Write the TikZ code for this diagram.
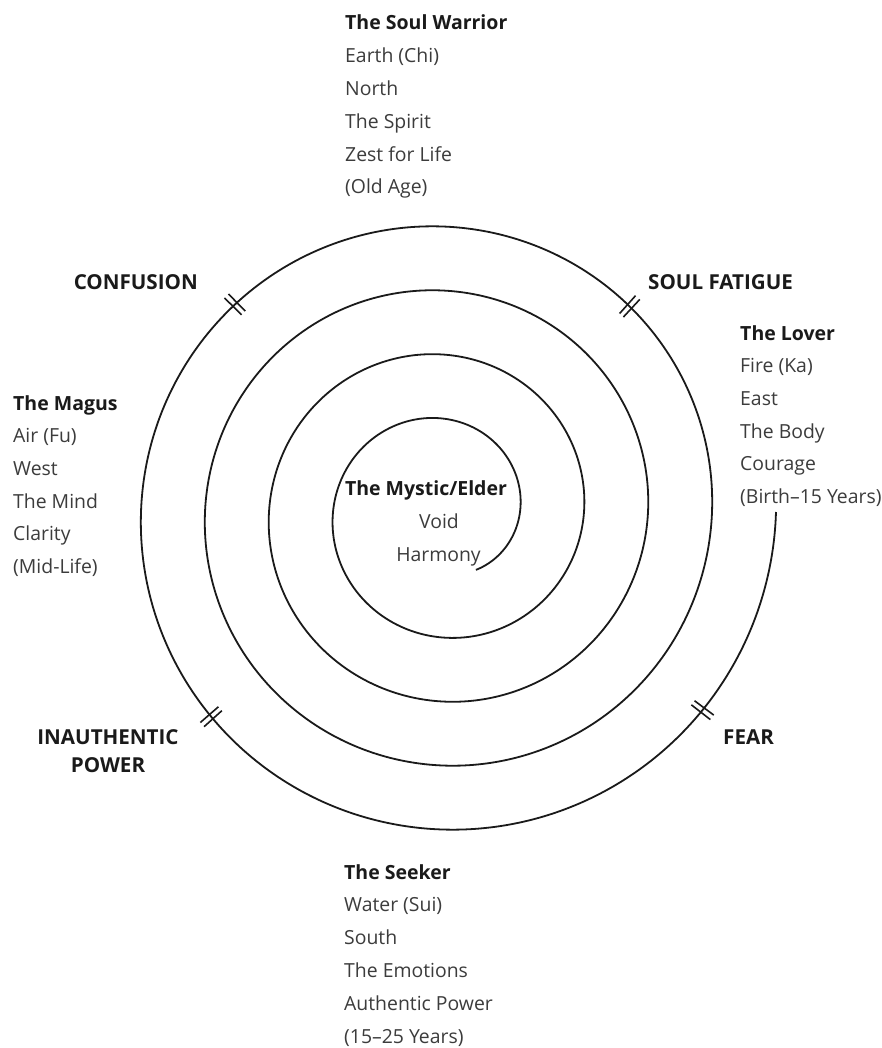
\documentclass[tikz,border=0pt]{standalone}
\usepackage{fontspec}
\setmainfont{Open Sans}
\usetikzlibrary{calc}
\definecolor{ink}{HTML}{1A1A1A}
\definecolor{bodygray}{HTML}{3C3C3C}
\begin{document}
\begin{tikzpicture}[x=1pt,y=1pt,
  spiral/.style={line width=1.8pt, draw=ink},
  tickmark/.style={line width=1.6pt, draw=ink},
  head/.style={font=\fontsize{19.5}{20}\selectfont\bfseries, text=ink, anchor=base west, inner sep=0pt},
  body/.style={font=\fontsize{19.4}{20}\selectfont, text=bodygray, anchor=base west, inner sep=0pt},
  caps/.style={font=\fontsize{20.6}{21}\selectfont\bfseries, text=ink, inner sep=0pt}]
\useasboundingbox (0,0) rectangle (881,-1048);
\fill[white] (0,0) rectangle (881,-1048);
\coordinate (C) at (442.5,-512);
% spiral
\draw[spiral] plot[domain=-60:1440, samples=751, smooth]
  ({442.5+(77.5+0.177778*\x)*cos(\x)}, {-512+(77.5+0.177778*\x)*sin(\x)});
% double tick marks
\foreach \p in {47.7,135,221.5,322.7}{
  \pgfmathsetmacro\th{1080+\p}
  \pgfmathsetmacro\rr{77.5+0.177778*\th}
  \pgfmathsetmacro\dd{2.7/\rr*57.2958}
  \draw[tickmark] ($(C)+({\th-\dd}:{\rr-12})$) -- ($(C)+({\th-\dd}:{\rr+12})$);
  \draw[tickmark] ($(C)+({\th+\dd}:{\rr-12})$) -- ($(C)+({\th+\dd}:{\rr+12})$);
}
% top block
\node[head] (warrior) at (345,-30) {The Soul Warrior};
\foreach \t [count=\i] in {Earth (Chi),North,The Spirit,Zest for Life,(Old Age)}
  \node[body] (warrior-\i) at (345,{-30-32.8*\i}) {\t};
% right block
\node[head] (lover) at (740,-340) {The Lover};
\foreach \t [count=\i] in {Fire (Ka),East,The Body,Courage,(Birth–15 Years)}
  \node[body] (lover-\i) at (740,{-340-32.7*\i}) {\t};
% left block
\node[head] (magus) at (13,-410) {The Magus};
\foreach \t [count=\i] in {Air (Fu),West,The Mind,Clarity,(Mid-Life)}
  \node[body] (magus-\i) at (13,{-410-32.7*\i}) {\t};
% bottom block
\node[head] (seeker) at (344,-879) {The Seeker};
\foreach \t [count=\i] in {Water (Sui),South,The Emotions,Authentic Power,(15–25 Years)}
  \node[body] (seeker-\i) at (344,{-879-32.8*\i}) {\t};
% centre
\node[head, anchor=base] (mystic) at (426,-495.6) {The Mystic/Elder};
\node[body, anchor=base] (void) at (439,-528) {Void};
\node[body, anchor=base] (harmony) at (438.5,-561) {Harmony};
% stage labels
\node[caps, anchor=base east] (confusion) at (198,-290) {CONFUSION};
\node[caps, anchor=base west] (fatigue) at (648,-290) {SOUL FATIGUE};
\node[caps, anchor=base] (inauth) at (108,-744) {INAUTHENTIC};
\node[caps, anchor=base] (power) at (108,-772) {POWER};
\node[caps, anchor=base west] (fear) at (723,-744) {FEAR};
\end{tikzpicture}
\end{document}
